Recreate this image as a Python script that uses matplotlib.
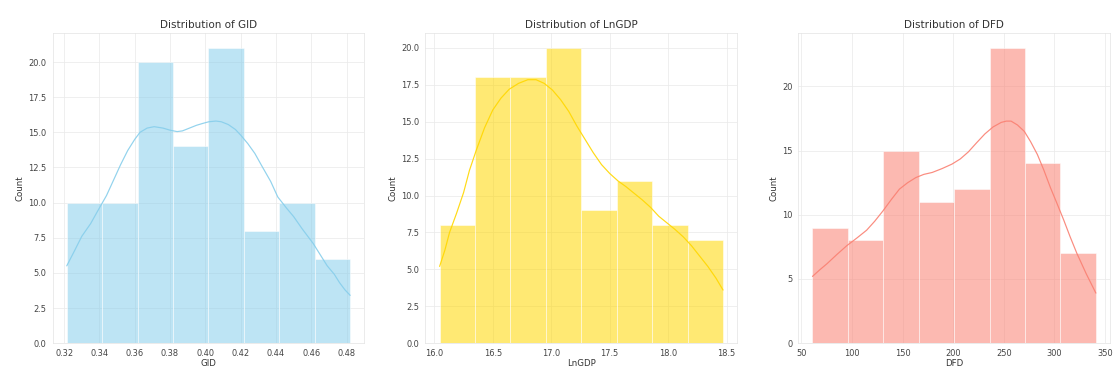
import numpy as np
import matplotlib
matplotlib.use('Agg')
import matplotlib.pyplot as plt
import seaborn as sns

# histogram bins and counts
gid_edges = [0.3215, 0.3416, 0.3616, 0.3817, 0.4017, 0.4218, 0.4419, 0.4619, 0.482]
gid_counts = [10, 10, 20, 14, 21, 8, 10, 6]
lngdp_edges = [16.045, 16.348, 16.651, 16.954, 17.258, 17.561, 17.864, 18.167, 18.47]
lngdp_counts = [8, 18, 18, 20, 9, 11, 8, 7]
dfd_edges = [61, 96, 131, 166, 201, 236, 271, 306, 341]
dfd_counts = [9, 8, 15, 11, 12, 23, 14, 7]

# kde curves (x, count scale)
gid_kde_x = [0.3215, 0.326, 0.330, 0.335, 0.339, 0.344, 0.348, 0.352, 0.356, 0.360, 0.363,
             0.367, 0.371, 0.376, 0.380, 0.384, 0.387, 0.391, 0.395, 0.399, 0.402,
             0.406, 0.409, 0.413, 0.417, 0.420, 0.424, 0.428, 0.432, 0.437, 0.441,
             0.446, 0.450, 0.455, 0.461, 0.465, 0.469, 0.473, 0.476, 0.479, 0.482]
gid_kde_y = [5.5, 6.6, 7.6, 8.5, 9.4, 10.5, 11.6, 12.7, 13.7, 14.5, 15.0,
             15.3, 15.4, 15.3, 15.15, 15.05, 15.1, 15.3, 15.5, 15.65, 15.75,
             15.8, 15.75, 15.55, 15.2, 14.8, 14.2, 13.5, 12.6, 11.5, 10.4,
             9.6, 9.0, 8.1, 7.1, 6.3, 5.5, 4.9, 4.3, 3.8, 3.4]
lngdp_kde_x = [16.045, 16.09, 16.13, 16.19, 16.25, 16.30, 16.36, 16.43, 16.50, 16.57, 16.64,
               16.72, 16.80, 16.87, 16.94, 17.01, 17.08, 17.15, 17.22, 17.29,
               17.36, 17.43, 17.50, 17.57, 17.64, 17.71, 17.78, 17.85, 17.92, 17.99,
               18.06, 18.13, 18.20, 18.27, 18.34, 18.41, 18.47]
lngdp_kde_y = [5.2, 6.3, 7.5, 8.8, 10.2, 11.7, 13.1, 14.6, 15.8, 16.6, 17.2,
               17.6, 17.85, 17.85, 17.6, 17.15, 16.5, 15.7, 14.7, 13.8,
               12.9, 12.1, 11.5, 11.0, 10.6, 10.15, 9.7, 9.2, 8.6, 8.15,
               7.7, 7.2, 6.6, 5.9, 5.2, 4.4, 3.6]
dfd_kde_x = [61, 68, 75.5, 85, 95, 105, 114.5, 122.5, 130.6, 139, 146.9, 155, 163.1,
             171, 179.3, 189, 198.8, 207, 215, 223, 231.3, 239.5, 247.5, 252.5, 257.2,
             263.5, 270.3, 276.5, 283.2, 289.5, 296.2, 302.5, 309.2, 315.5, 322.2,
             331.5, 341]
dfd_kde_y = [5.2, 5.7, 6.2, 6.9, 7.6, 8.2, 8.8, 9.5, 10.3, 11.2, 12.0, 12.5, 12.9,
             13.15, 13.3, 13.6, 13.95, 14.35, 14.9, 15.6, 16.3, 16.85, 17.2, 17.3, 17.3,
             17.0, 16.5, 15.7, 14.7, 13.5, 12.1, 10.9, 9.6, 8.3, 7.0,
             5.4, 3.9]

names = ['GID', 'LnGDP', 'DFD']
colors = ['skyblue', 'gold', 'salmon']


def draw_hist(ax, edges, counts, kx, ky, color, name):
    edges = np.asarray(edges, dtype=float)
    ax.bar(edges[:-1], counts, width=np.diff(edges), align='edge',
           color=color, alpha=0.55, edgecolor='white', linewidth=1)
    ax.plot(kx, ky, color=color, linewidth=1.4, alpha=0.9)
    ax.set_title('Distribution of ' + name, fontsize=12, color='#333333')
    ax.set_xlabel(name, fontsize=10, labelpad=1, color='#333333')
    ax.set_ylabel('Count', fontsize=10, color='#333333')
    ax.tick_params(labelsize=9.5, labelcolor='#444444')
    ax.grid(True, color='#ebebeb', linewidth=0.9)
    for s in ax.spines.values():
        s.set_color('#e3e3e3')


def main():
    sns.set_style('whitegrid')
    fig, axes = plt.subplots(1, 3, figsize=(18, 6))
    data = [
        (gid_edges, gid_counts, gid_kde_x, gid_kde_y),
        (lngdp_edges, lngdp_counts, lngdp_kde_x, lngdp_kde_y),
        (dfd_edges, dfd_counts, dfd_kde_x, dfd_kde_y),
    ]
    for ax, (e, c, kx, ky), col, name in zip(axes, data, colors, names):
        draw_hist(ax, e, c, kx, ky, col, name)
    axes[0].set_xticks(np.round(np.arange(0.32, 0.481, 0.02), 2))
    plt.subplots_adjust(left=0.047, right=0.992, top=0.911, bottom=0.08, wspace=0.196)
    fig.savefig('out.png', dpi=1119 / 18)
    plt.close(fig)


if __name__ == '__main__':
    main()
